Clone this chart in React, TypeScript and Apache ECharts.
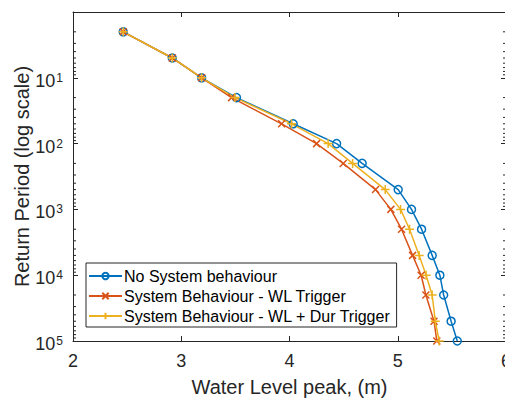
import React, { useEffect, useRef } from "react";
import * as echarts from "echarts";

const returnPeriods = [2, 5, 10, 20, 50, 100, 200, 500, 1000, 2000, 5000, 10000, 20000, 50000, 100000];
const noSystem = [2.464, 2.917, 3.188, 3.51, 4.034, 4.435, 4.671, 5.004, 5.127, 5.22, 5.318, 5.389, 5.424, 5.493, 5.55];
const wlTrigger = [2.464, 2.917, 3.188, 3.465, 3.927, 4.25, 4.496, 4.795, 4.936, 5.035, 5.137, 5.216, 5.26, 5.335, 5.361];
const wlDurTrigger = [2.464, 2.917, 3.188, 3.496, 4.019, 4.357, 4.583, 4.884, 5.026, 5.109, 5.198, 5.262, 5.318, 5.347, 5.382];
const seriesNames = ["No System behaviour", "System Behaviour - WL Trigger", "System Behaviour - WL + Dur Trigger"];
const xTicks = [2, 3, 4, 5, 6];
const minorTickValues: number[] = [];
for (let k = 0; k < 5; k++) for (let m = 2; m <= 9; m++) minorTickValues.push(m * Math.pow(10, k));

const FONT = "'Liberation Sans', Arial, Helvetica, sans-serif";
const AX = "#262626";
const BLUE = "#0072BD";
const RED = "#D95319";
const YEL = "#EDB120";
const X_PATH = "path://M0,0L10,10M10,0L0,10";
const PLUS_PATH = "path://M5,0L5,10M0,5L10,5";

export default function App() {
  const ref = useRef<HTMLDivElement>(null);
  useEffect(() => {
    if (!ref.current) return;
    const chart = echarts.init(ref.current, undefined, { renderer: "svg" });
    const mk = (name: string, vals: number[], color: string, symbol: string, size: number, fill: string) => ({
      name,
      type: "line",
      data: vals.map((v, i) => [v, returnPeriods[i]]),
      lineStyle: { color, width: 1.5 },
      itemStyle: { color: fill, borderColor: color, borderWidth: 1.5 },
      symbol,
      symbolSize: size,
      showAllSymbol: true,
      z: 3,
    });
    const yLabel = (v: number) => {
      const e = Math.round(Math.log10(v));
      if (e === 0) return "";
      return "{b|10}{s|" + e + "}";
    };
    chart.setOption({
      animation: false,
      backgroundColor: "#fff",
      textStyle: { fontFamily: FONT },
      grid: { left: 73, right: -1, top: 12, bottom: 57, outerBoundsMode: "none", containLabel: false },
      legend: {
        data: seriesNames,
        orient: "vertical",
        left: 86,
        top: 263,
        itemWidth: 33,
        itemHeight: 8,
        itemGap: 4,
        padding: [5, 6, 3, 2],
        borderColor: AX,
        borderWidth: 1,
        backgroundColor: "#fff",
        textStyle: { fontSize: 16, color: "#000", fontFamily: FONT, padding: [0, 0, 0, -3] },
      },
      xAxis: [
        {
          type: "value",
          min: 2,
          max: 6,
          interval: 1,
          name: "Water Level peak, (m)",
          nameLocation: "middle",
          nameGap: 36,
          nameMoveOverlap: false,
          nameTextStyle: { fontSize: 20, color: AX, fontFamily: FONT },
          axisLine: { lineStyle: { color: AX, width: 1 } },
          axisTick: { inside: true, length: 5, lineStyle: { color: AX } },
          axisLabel: { fontSize: 18, color: AX, margin: 11, fontFamily: FONT, showMaxLabel: true },
          splitLine: { show: false },
        },
        {
          type: "value",
          position: "top",
          min: 2,
          max: 6,
          interval: 1,
          axisLine: { show: true, lineStyle: { color: AX, width: 1 } },
          axisTick: { inside: true, length: 5, lineStyle: { color: AX } },
          axisLabel: { show: false },
          splitLine: { show: false },
        },
      ],
      yAxis: [
        {
          type: "log",
          logBase: 10,
          min: 1,
          max: 100000,
          inverse: true,
          name: "Return Period (log scale)",
          nameLocation: "middle",
          nameGap: 41,
          nameMoveOverlap: false,
          nameTextStyle: { fontSize: 20, color: AX, fontFamily: FONT },
          axisLine: { show: true, lineStyle: { color: AX, width: 1 } },
          axisTick: { inside: true, length: 5, lineStyle: { color: AX } },
          axisLabel: {
            formatter: yLabel,
            margin: 10,
            color: AX,
            rich: {
              b: { fontSize: 18, color: AX, fontFamily: FONT, padding: [6, 0, 0, 0] },
              s: { fontSize: 12, color: AX, fontFamily: FONT, padding: [0, 0, 0, 1] },
            },
          },
          splitLine: { show: false },
        },
        {
          type: "log",
          logBase: 10,
          min: 1,
          max: 100000,
          inverse: true,
          position: "right",
          axisLine: { show: true, lineStyle: { color: AX, width: 1 } },
          axisTick: { inside: true, length: 5, lineStyle: { color: AX } },
          axisLabel: { show: false },
          splitLine: { show: false },
        },
      ],
      series: [
        mk(seriesNames[0], noSystem, BLUE, "circle", 8, "rgba(255,255,255,0)"),
        mk(seriesNames[1], wlTrigger, RED, X_PATH, 7, RED),
        mk(seriesNames[2], wlDurTrigger, YEL, PLUS_PATH, 9, YEL),
        {
          type: "custom",
          name: "minorTicks",
          silent: true,
          data: minorTickValues.map((v) => [v]),
          encode: { y: 0 },
          renderItem: (params: any, api: any) => {
            const v = api.value(0);
            const l = api.coord([xTicks[0], v]);
            const r = api.coord([xTicks[xTicks.length - 1], v]);
            return {
              type: "group",
              children: [
                { type: "line", shape: { x1: l[0], y1: l[1], x2: l[0] + 3, y2: l[1] }, style: { stroke: AX, lineWidth: 1 } },
                { type: "line", shape: { x1: r[0], y1: r[1], x2: r[0] - 3, y2: r[1] }, style: { stroke: AX, lineWidth: 1 } },
              ],
            };
          },
          clip: false,
          z: 1,
        },
      ],
    });
    return () => chart.dispose();
  }, []);
  return <div ref={ref} style={{ width: 505, height: 398, position: "absolute", left: 0, top: 0 }} />;
}
